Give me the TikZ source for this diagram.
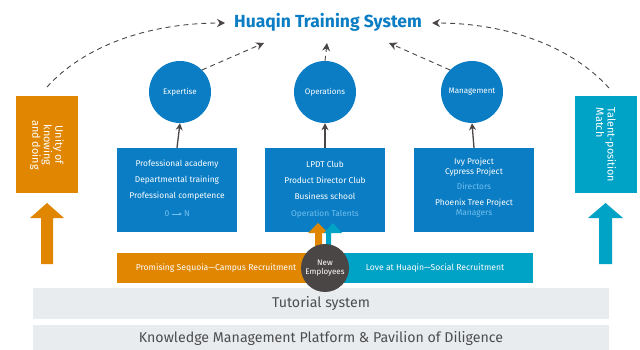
\documentclass[tikz,border=0pt]{standalone}
\usepackage{fontspec}
\setmainfont{Fira Sans}
\usetikzlibrary{arrows.meta}
\definecolor{hblue}{HTML}{0A7DC4}
\definecolor{horange}{HTML}{E08600}
\definecolor{hteal}{HTML}{00A2C6}
\definecolor{hlight}{HTML}{72C0EE}
\definecolor{hgray}{HTML}{E9ECEF}
\definecolor{hdark}{HTML}{4A4645}
\definecolor{htext}{HTML}{4D4D4D}
\begin{document}
\begin{tikzpicture}[x=1pt,y=-1pt,
 circ/.style={circle,fill=hblue,text=white,minimum size=62pt,inner sep=0pt,font=\fontsize{8}{9}\selectfont},
 bbox/.style={fill=hblue,minimum width=120pt,minimum height=84pt,inner sep=0pt},
 btxt/.style={text=white,inner sep=0pt,font=\fontsize{8.4}{9}\selectfont},
 ltxt/.style={text=hlight,inner sep=0pt,font=\fontsize{8.4}{9}\selectfont},
 sidebox/.style={minimum width=62pt,minimum height=97pt,inner sep=0pt},
 sidetxt/.style={text=white,rotate=-90,inner sep=0pt,font=\fontsize{10.8}{11.5}\selectfont},
 uparrow/.style={-{Stealth[length=7pt,width=7pt]},line width=1.3pt,draw=hdark},
 dasharrow/.style={dash pattern=on 5pt off 4pt,line width=0.9pt,draw=hdark,-{Stealth[length=8pt,width=8pt]}},
 bar/.style={inner sep=0pt,minimum height=30pt},
 bartxt/.style={text=white,inner sep=0pt,font=\fontsize{8.6}{9}\selectfont},
 graybar/.style={fill=hgray,inner sep=0pt,minimum width=576pt,text=htext,font=\fontsize{14.2}{15}\selectfont}
]
\useasboundingbox[fill=white] (0,0) rectangle (640,350);

% title
\node[text=hblue,font=\bfseries\fontsize{17.5}{19}\selectfont] (title) at (328,22) {Huaqin Training System};
\coordinate (t1) at (264,43);
\coordinate (t2) at (327,43);
\coordinate (t3) at (389,43);
\coordinate (tl) at (225,23);
\coordinate (tr) at (432,23);

% circles
\node[circ] (exp) at (180,92) {Expertise};
\node[circ] (ops) at (325,92) {Operations};
\node[circ] (mgt) at (472,92) {Management};

% boxes
\node[bbox] (bexp) at (177,190) {};
\node[bbox] (bops) at (325,190) {};
\node[bbox] (bmgt) at (474,190) {};

\node[btxt] at (177,164) {Professional academy};
\node[btxt] at (177,180) {Departmental training};
\node[btxt] at (177,196) {Professional competence};
\node[ltxt] (zero) at (167,214) {0};
\node[ltxt] (enn) at (187,214) {N};
\draw[hlight,line width=0.8pt,-{Stealth[length=3pt,width=3pt]}] ([xshift=2pt]zero.east) -- ([xshift=-2pt]enn.west);

\node[btxt] at (325,164) {LPDT Club};
\node[btxt] at (325,180) {Product Director Club};
\node[btxt] at (325,196) {Business school};
\node[ltxt] at (325,214) {Operation Talents};

\node[btxt] at (474,162) {Ivy Project};
\node[btxt] at (474,172.5) {Cypress Project};
\node[ltxt] at (474,186) {Directors};
\node[btxt] at (474,203) {Phoenix Tree Project};
\node[ltxt] at (474,214) {Managers};

% box -> circle arrows
\draw[uparrow] (bexp.north) -- (exp.south);
\draw[uparrow] (bops.north) -- (ops.south);
\draw[uparrow] (bmgt.north) -- (mgt.south);

% side boxes
\node[sidebox,fill=horange] (lbox) at (47,144.5) {};
\node[sidetxt,align=center] at (47,145) {Unity of\\knowing\\and doing};
\node[sidebox,fill=hteal] (rbox) at (606,144.5) {};
\node[sidetxt,align=left] at (606,145) {Talent-position\\Match};

\coordinate (la) at (47,87);
\coordinate (ra) at (609,88);

% dashed arrows
\draw[dasharrow] (la) .. controls (85,45) and (150,23) .. (tl);
\draw[dasharrow] (ra) .. controls (570,45) and (505,23) .. (tr);
\draw[dasharrow] (exp.north east) -- (t1);
\draw[dasharrow] (ops.north) -- (t2);
\draw[dasharrow] (mgt.north west) -- (t3);

% big arrows
\fill[horange] (47,203) -- (64,218) -- (53,218) -- (53,264) -- (41,264) -- (41,218) -- (30,218) -- cycle;
\fill[hteal] (605.5,203) -- (623,218) -- (612,218) -- (612,264) -- (599,264) -- (599,218) -- (588,218) -- cycle;

% small arrows to operations box
\fill[horange] (318,223) -- (328,233) -- (322,233) -- (322,258) -- (315,258) -- (315,233) -- (308,233) -- cycle;
\fill[hteal] (333,223) -- (342,233) -- (331,233) -- (331,258) -- (326,258) -- (326,233) -- (324,233) -- cycle;

% recruitment bars
\node[bar,fill=horange,minimum width=208pt] (camp) at (221,268) {};
\node[bar,fill=hteal,minimum width=208pt] (soc) at (429,268) {};
\node[bartxt] at (216,268) {Promising Sequoia—Campus Recruitment};
\node[bartxt] at (435,268) {Love at Huaqin—Social Recruitment};

% gray bars
\node[graybar,minimum height=31pt] (tut) at (321,303.5) {Tutorial system};
\node[graybar,minimum height=26pt] (kmp) at (321,338) {Knowledge Management Platform \& Pavilion of Diligence};

% new employees circle
\node[circle,fill=hdark,minimum size=48pt,inner sep=0pt,text=white,align=center,font=\fontsize{8}{9}\selectfont] (new) at (325,268) {New\\Employees};

\end{tikzpicture}
\end{document}
